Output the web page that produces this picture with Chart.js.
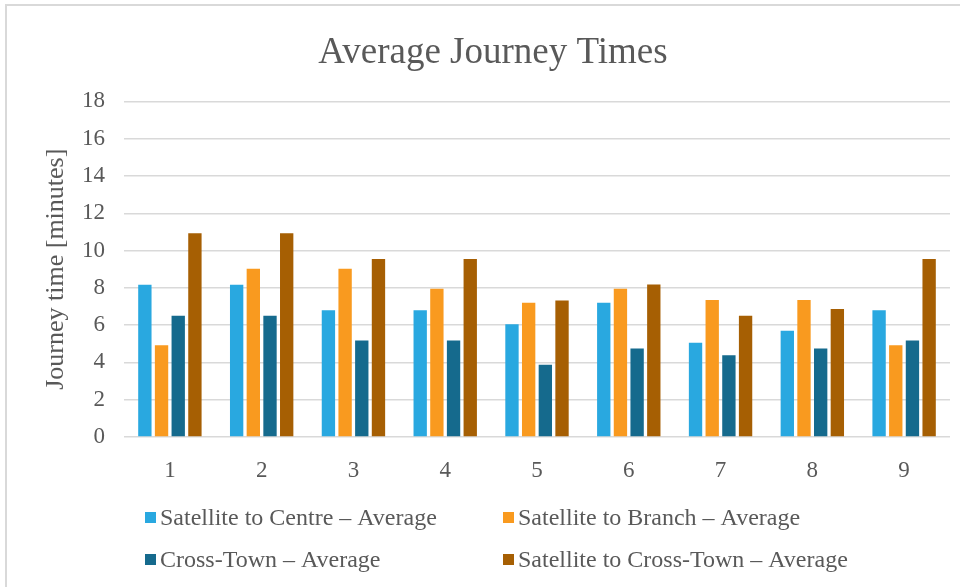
<!DOCTYPE html>
<html>
<head>
<meta charset="utf-8">
<script src="https://cdn.jsdelivr.net/npm/chart.js@4.4.1/dist/chart.umd.min.js"></script>
<style>
  html, body { margin: 0; padding: 0; background: #ffffff; overflow: hidden; }
  #frame {
    position: absolute; left: 5px; top: 4px; width: 1200px; height: 800px;
    border-left: 2px solid #d9d9d9; border-top: 2px solid #d9d9d9;
  }
  #wrap { position: absolute; left: 0; top: 0; width: 980px; height: 587px; }
</style>
</head>
<body>
<div id="frame"></div>
<div id="wrap"><canvas id="chart" width="980" height="587"></canvas></div>
<script>
// Journey number along the x axis
const journeys = ['1', '2', '3', '4', '5', '6', '7', '8', '9'];

// Average journey time per route type, in minutes
const satelliteToCentre    = [8.17, 8.17, 6.80, 6.80, 6.05, 7.20, 5.05, 5.70, 6.80];
const satelliteToBranch    = [4.92, 9.02, 9.02, 7.95, 7.20, 7.95, 7.35, 7.35, 4.92];
const crossTown            = [6.50, 6.50, 5.17, 5.17, 3.88, 4.75, 4.38, 4.75, 5.17];
const satelliteToCrossTown = [10.93, 10.93, 9.55, 9.55, 7.32, 8.18, 6.50, 6.87, 9.55];

const seriesNames = [
  'Satellite to Centre \u2013 Average',
  'Satellite to Branch \u2013 Average',
  'Cross-Town \u2013 Average',
  'Satellite to Cross-Town \u2013 Average'
];
const seriesColors = ['#29a8e0', '#f99a1f', '#156a8d', '#a65f03'];

const FONT = "'Liberation Serif', 'Times New Roman', serif";
const TEXT = '#595959';

// Two-column legend below the plot, drawn on the canvas
const gridLegend = {
  id: 'gridLegend',
  afterDraw(chart) {
    const ctx = chart.ctx;
    const colX = [145, 503];
    const rowY = [518, 560];
    ctx.save();
    ctx.font = '24px ' + FONT;
    ctx.textBaseline = 'middle';
    ctx.textAlign = 'left';
    chart.data.datasets.forEach((ds, i) => {
      const x = colX[i % 2];
      const y = rowY[Math.floor(i / 2)];
      ctx.fillStyle = ds.backgroundColor;
      ctx.fillRect(x, y - 6, 11, 11);
      ctx.fillStyle = TEXT;
      ctx.fillText(ds.label, x + 15, y + 1);
    });
    ctx.restore();
  }
};

const datasets = [satelliteToCentre, satelliteToBranch, crossTown, satelliteToCrossTown]
  .map((values, i) => ({
    label: seriesNames[i],
    data: values,
    backgroundColor: seriesColors[i],
    borderWidth: 0,
    categoryPercentage: 0.727,
    barPercentage: 0.8
  }));

new Chart(document.getElementById('chart'), {
  type: 'bar',
  data: { labels: journeys, datasets },
  plugins: [gridLegend],
  options: {
    responsive: false,
    animation: false,
    layout: { padding: { left: 36, right: 30, top: 0, bottom: 100 } },
    plugins: {
      legend: { display: false },
      tooltip: { enabled: false },
      title: {
        display: true,
        text: 'Average Journey Times',
        color: TEXT,
        font: { family: FONT, size: 37, weight: 'normal' },
        padding: { top: 31, bottom: 26 }
      }
    },
    scales: {
      x: {
        grid: { display: false },
        border: { display: false },
        ticks: { color: TEXT, font: { family: FONT, size: 23 }, padding: 12 },
        afterFit(scale) { scale.height = 50; }
      },
      y: {
        min: 0,
        max: 18,
        ticks: { stepSize: 2, color: TEXT, font: { family: FONT, size: 23 }, padding: 19 },
        grid: { color: '#d9d9d9', lineWidth: 1.5, drawTicks: false },
        border: { display: false },
        title: {
          display: true,
          text: 'Journey time [minutes]',
          color: TEXT,
          font: { family: FONT, size: 26 },
          padding: { top: 5, bottom: 4 }
        },
        afterFit(scale) { scale.width = 88; }
      }
    }
  }
});
</script>
</body>
</html>
